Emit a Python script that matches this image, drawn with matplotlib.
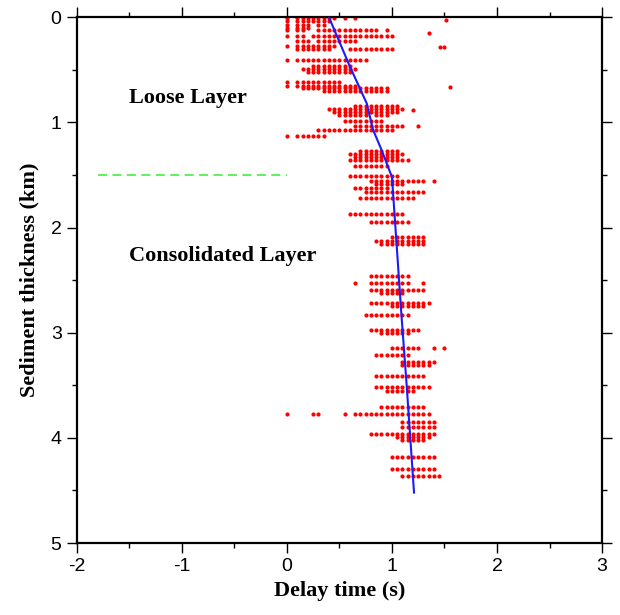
#!/usr/bin/env python3

import numpy as np
from matplotlib import pyplot as plt
from matplotlib.ticker import MultipleLocator

plt.rcParams['axes.unicode_minus'] = False

DT = 0.05   # delay time sampling of the dots (s)

# rows of dots: depth (km), first sample index, mask ('o' = dot)
row_depth = [0.01, 0.04, 0.07, 0.10, 0.12, 0.18, 0.23, 0.27, 0.30, 0.41,
             0.46, 0.49, 0.52, 0.62, 0.65, 0.67, 0.70, 0.84, 0.87, 0.90,
             0.93, 0.985, 1.03, 1.07, 1.13, 1.27, 1.30, 1.33, 1.36, 1.41,
             1.51, 1.56, 1.59, 1.62, 1.66, 1.72, 1.87, 1.95, 2.09, 2.13,
             2.16, 2.46, 2.53, 2.59, 2.62, 2.72, 2.75, 2.83, 2.97, 3.00,
             3.15, 3.21, 3.28, 3.31, 3.41, 3.52, 3.55, 3.71, 3.77, 3.85,
             3.90, 3.96, 3.99, 4.02, 4.18, 4.30, 4.36]
row_start = [0, 0, 0, 0, 0, 0, 2, 0, 2, 0,
             5, 3, 4, 0, 0, 3, 7, 13, 8, 9,
             10, 11, 13, 6, 0, 14, 12, 13, 12, 13,
             12, 16, 17, 13, 15, 14, 12, 16, 20, 17,
             18, 16, 13, 16, 18, 16, 20, 15, 16, 18,
             20, 17, 22, 22, 17, 17, 19, 18, 0, 22,
             22, 16, 21, 22, 20, 20, 22]
row_mask = ["o.oooooooo.o.o", "o.ooooooo", "o.ooo.oo", "o.ooo",
            "o.oo..oooooooooooo.o", "o.oo.oooooooooooooooo", "ooo.oooooooo",
            "o.oooooooo", "ooooooo...ooooooooo", "o.oooooooooooooo",
            "oooooooo", "ooooooooooo", "ooooooooo", "o.ooooooooo",
            "o.oooooooooooo", "ooooooooooooooooo", "ooooooooooooo",
            "ooooooooo", "ooooooooooooooo", "ooooooooooooo",
            "oooooo.ooo", "oooooooo", "oooooooooo", "ooooooooooooooo",
            "o.oooooo", "oooooooo", "ooooooooooo", "ooooooooo",
            "oooooooooooo", "ooooooo", "oooooooooo", "ooooooooooo.o",
            "oooooo", "ooooooo", "oooooooooooo", "ooooooooooo",
            "ooooooooooo", "oooooooo", "ooooooo", "oooooooooo",
            "ooooooooo", "oooooooo", "o..oooooooo..o", "ooooooooooo",
            "ooooo", "oooooooooooo", "ooooooo", "ooooooooo",
            "oooooooooo", "oooooo", "oooooo..o.o", "ooooooo",
            "ooooooo", "oooooo", "oooooooooo", "ooooooooooo",
            "oooooo", "ooooooooo", "o....oo....o.ooooooooooooooo",
            "ooooooo", "ooooooo", "ooooooooooooo", "ooooooo",
            "ooooo", "ooooooooo", "ooooooooo", "oooooooo"]

# isolated dots
iso_t = [1.51, 1.35, 1.46, 1.50, 1.55, 1.20, 1.25]
iso_d = [0.03, 0.15, 0.28, 0.28, 0.66, 0.88, 1.03]

# fitted curve
curve_t = [0.40, 0.60, 0.76, 0.82, 0.90, 1.00, 1.04, 1.09, 1.14, 1.21]
curve_d = [0.00, 0.47, 0.82, 1.07, 1.26, 1.52, 2.10, 2.83, 3.50, 4.52]

# layer boundary
bound_t = [-1.8, 0.0]
bound_d = [1.5, 1.5]


dot_t, dot_d = [], []
for d, s, m in zip(row_depth, row_start, row_mask):
    for i, c in enumerate(m):
        if c == 'o':
            dot_t.append((s + i) * DT)
            dot_d.append(d)
dot_t += iso_t
dot_d += iso_d

fig = plt.figure(figsize=(6.2, 6.15), dpi=100)
ax = fig.add_axes([0.124, 0.117, 0.847, 0.855])

ax.scatter(dot_t, dot_d, s=9, c='red', linewidths=0, zorder=2)
ax.plot(curve_t, curve_d, color='#1a1aff', linewidth=1.5, zorder=3)
ax.plot(bound_t, bound_d, color='#55ee55', linewidth=1.3, dashes=(5, 3))

serif = dict(family='Liberation Serif', weight='bold')
ax.text(-1.5, 0.77, 'Loose Layer', fontsize=16, va='center', **serif)
ax.text(-1.5, 2.27, 'Consolidated Layer', fontsize=16, va='center', **serif)

ax.set_xlim(-2, 3)
ax.set_ylim(5, 0)
ax.xaxis.set_major_locator(MultipleLocator(1))
ax.xaxis.set_minor_locator(MultipleLocator(0.5))
ax.yaxis.set_major_locator(MultipleLocator(1))
ax.yaxis.set_minor_locator(MultipleLocator(0.5))
ax.tick_params(which='both', direction='out', top=True, right=True,
               labeltop=False, labelright=False)
ax.tick_params(which='major', length=7, width=1, labelsize=14, pad=4)
ax.tick_params(which='minor', length=3.5, width=1)
for lab in ax.get_xticklabels() + ax.get_yticklabels():
    lab.set_family('Liberation Sans')
for sp in ax.spines.values():
    sp.set_linewidth(1.6)

ax.set_xlabel('Delay time (s)', fontsize=16, labelpad=4, **serif)
ax.set_ylabel('Sediment thickness (km)', fontsize=16, labelpad=8, **serif)

fig.savefig('out.png', dpi=100)
